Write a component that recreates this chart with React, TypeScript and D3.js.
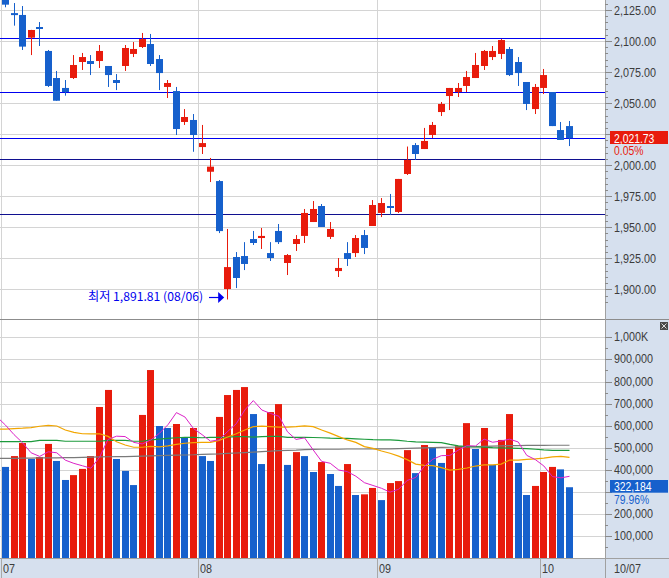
import React from 'react';
import * as d3 from 'd3';

// ---- data (index -1 = 06/28, 0..66 = 07/01 .. 10/07) ----
const firstIndex = -1;
const openP = [2134, 2134.5, 2122.5, 2121, 2102.7, 2111.3, 2092, 2070.2, 2062.2, 2070.2, 2083.1, 2083.9, 2083.9, 2079.9, 2068.6, 2079.9, 2089.6, 2095.2, 2097.6, 2085.5, 2063, 2059.7, 2034.8, 2036.4,
  2014.6, 1994.7, 1987.2, 1900.2, 1926, 1926.8, 1940.5, 1941.3, 1929.2, 1947, 1921.2, 1936.5, 1943, 1954.2, 1967.1, 1942.2, 1914.7, 1929.2, 1929.2, 1943.7, 1951,
  1961.5, 1967.1, 1962.3, 1992.9, 2016.2, 2013, 2024.3, 2042.8, 2055.7, 2058.9, 2063.8, 2070.2, 2079.9, 2087.1, 2089.6, 2093.6, 2083.1, 2067, 2045.2,
  2062.2, 2058.9, 2028.3, 2031.5];
const highP = [2137, 2138, 2130.6, 2128.2, 2109, 2115.3, 2092.8, 2075.9, 2068.6, 2088.7, 2090.4, 2088.7, 2096.8, 2079.9, 2073.4, 2096.8, 2099.2, 2106.5, 2105.7, 2088.7, 2068.6, 2063, 2045.2, 2041.2,
  2032.4, 2005.8, 1988, 1948.6, 1930, 1938, 1947, 1949.4, 1938, 1952.6, 1928.4, 1943.7, 1964.7, 1971.1, 1968.7, 1954.2, 1925.2, 1938, 1943.7, 1947.8, 1971.9,
  1973.5, 1976.8, 1988.9, 2015, 2017.8, 2030, 2034.8, 2050.9, 2062.2, 2066.2, 2075.9, 2090.4, 2092.8, 2096, 2101.6, 2095.2, 2087.1, 2067, 2065.4,
  2077.5, 2058.9, 2034.8, 2035.6];
const lowP = [2127, 2127.2, 2112.4, 2092.8, 2088.7, 2096, 2063, 2051.9, 2056, 2069.4, 2076.7, 2072.6, 2078.3, 2063, 2060.5, 2075.9, 2087.1, 2094.4, 2079.9, 2060.5, 2054.1, 2024.3, 2032.4, 2010.8,
  2009, 1986.4, 1945.3, 1891.81, 1901, 1915.5, 1935.7, 1932.5, 1922.8, 1936.5, 1911.5, 1930.9, 1937.3, 1954.2, 1950.2, 1940.5, 1909.9, 1918.8, 1926, 1928.4, 1951,
  1958.2, 1959.8, 1961.5, 1992.1, 2004.2, 2013, 2021.9, 2039.6, 2044.4, 2054.9, 2058.9, 2070.2, 2076.7, 2084.7, 2085.5, 2071.8, 2063.8, 2044.4, 2041.2,
  2057.3, 2031.5, 2020.3, 2015.4];
const closeP = [2130.6, 2129.3, 2121.5, 2095.5, 2108.9, 2110, 2063.8, 2051.9, 2058.9, 2080.7, 2087.1, 2081.5, 2092, 2072.6, 2066.2, 2094.4, 2093.6, 2101.6, 2081.5, 2074.2, 2066.2, 2029.1, 2038.8, 2024.3,
  2017.8, 1998.8, 1946.9, 1917.9, 1909.1, 1920.4, 1937.3, 1943, 1925.2, 1938, 1927.6, 1940.5, 1961.5, 1964.7, 1950.2, 1948.6, 1917.2, 1924.4, 1941.3, 1933.3, 1967.9,
  1969.5, 1965.5, 1988.9, 2004.2, 2009, 2019.5, 2032.4, 2049.3, 2062.2, 2062.2, 2071, 2080.7, 2092, 2092, 2100.8, 2072.6, 2074.2, 2049.3, 2063,
  2072.6, 2031.5, 2020.3, 2021.73];
// volume in thousands
const volume = [540, 414, 463, 522, 450, 459, 518, 441, 355, 377, 405, 463, 685, 762, 450, 396, 332, 649, 852, 599, 590, 608, 549, 590,
  463, 441, 640, 739, 762, 775, 653, 427, 662, 698, 423, 481, 463, 391, 436, 382, 328, 427, 287, 290, 319,
  264, 341, 350, 490, 386, 513, 504, 432, 495, 508, 612, 495, 590, 423, 536, 653, 432, 287, 328,
  391, 414, 402.9, 322.184];
const ma5 = [640, 603, 560, 523, 477.8, 461.6, 482.4, 478, 444.6, 430, 419.2, 408.2, 457, 538.4, 553, 551.2, 525, 517.8, 535.8, 565.6, 604.4, 659.6, 639.6, 587.2,
  560, 530.2, 536.6, 574.6, 609, 671.4, 713.8, 671.2, 655.8, 643, 572.6, 538.2, 545.4, 491.2, 438.8, 430.6, 400, 392.8, 372, 342.8, 330.2,
  317.4, 300.2, 312.8, 352.8, 366.2, 416, 448.6, 465, 466, 490.4, 510.2, 508.4, 540, 525.6, 531.2, 539.4, 526.8, 466.2, 447.2,
  418.2, 370.4, 364.6, 371.6];
const ma20 = [585, 585, 587, 589, 592, 598, 602, 599, 581, 570, 564, 563, 564, 552, 528, 513, 503, 503, 507, 505, 509, 516, 521, 524,
  525, 525, 534, 549, 564, 581, 596, 598, 596, 594, 594, 596, 600, 596, 581, 567, 551, 536, 525, 506, 498, 486,
  476, 463, 447, 427, 421, 420, 411, 400, 403, 409, 418, 423, 423, 427, 445, 445, 448, 450, 454, 459, 462, 457];
const ma60 = [528, 528, 528, 528, 528, 534, 534, 534, 530, 530, 530, 530, 530, 534, 534, 534, 530, 530, 536, 540, 543, 546, 548, 548,
  546, 548, 548, 549, 551, 551, 549, 551, 552, 552, 548, 548, 548, 547, 546, 544, 543, 543, 541, 539, 537, 536,
  536, 534, 530, 527, 526, 525, 524, 516, 509, 506, 505, 503, 501, 500, 499, 498, 497, 494, 491, 489, 489, 489];
const ma120 = [453, 453, 453, 454, 454, 455, 455, 455, 456, 456, 457, 458, 459, 460, 461, 461, 462, 463, 464, 465, 466, 467, 468, 469,
  471, 472, 473, 475, 477, 479, 481, 483, 485, 488, 489, 490, 492, 493, 494, 494, 494, 495, 495, 495, 496, 496,
  496, 497, 498, 499, 500, 501, 502, 503, 504, 505, 506, 507, 508, 509, 510, 510, 511, 511, 511, 512, 512, 512];

const monthLabels = ['07', '08', '09', '10'];
const monthStart = [0, 23, 44, 63];
const lastDateLabel = '10/07';
const priceTicks = [1900, 1925, 1950, 1975, 2000, 2025, 2050, 2075, 2100, 2125];
const volumeTicks = [100, 200, 300, 400, 500, 600, 700, 800, 900, 1000];
const hiddenPriceTicks = [2025];
const hiddenVolumeTicks = [300];
const blueLevels = [2102.2, 2058.6, 2021.6];
const navyLevels = [2004.6, 1961];
const lowNote = '최저 1,891.81 (08/06)';
const lowIndex = 26;
const lastPriceText = '2,021.73';
const lastChangeText = '0.05%';
const lastVolumeText = '322,184';
const lastVolumeRatioText = '79.96%';

const RED = '#e81b0c';
const BLUE = '#1660cc';
const PANEL = '#d6e0ee';
const GRID = '#d4d4d4';
const TXT = '#3c3c3c';
const PLOT_R = 605;

const fmtPrice = (v: number) => d3.format(',.2f')(v);

function AxisText({ x, y, children, fill = TXT, size = 13 }: any) {
  return (
    <text transform={`translate(${x},${y}) scale(0.83,1)`} fill={fill}
      style={{ fontFamily: 'Liberation Sans, Arial, sans-serif', fontSize: size }}>{children}</text>
  );
}

export default function App() {
  const x = d3.scaleLinear().domain([0, 66]).range([5.5, 569.5]);
  const yP = d3.scaleLinear().domain([1900, 2125]).range([289.3, 10]);
  const yV = d3.scaleLinear().domain([0, 1000]).range([558.5, 337.3]);
  const idx = d3.range(firstIndex, firstIndex + openP.length);
  const crisp = (v: number) => Math.round(v) + 0.5;

  const lineGen = d3.line<number>().x((_, k) => x(idx[k])).y((v) => yV(v)).curve(d3.curveLinear);

  const minorPrice = d3.range(1890, 2140, 5).filter((v) => yP(v) > 1 && yP(v) < 318);
  const minorVol = d3.range(0, 1050, 50).filter((v) => yV(v) > 321 && yV(v) < 558);

  const volLabel = (v: number) => (v >= 1000 ? '1,000K' : d3.format(',')(v * 1000));

  return (
    <svg width={669} height={578} style={{ position: 'absolute', left: 0, top: 0, background: '#fff' }}>
      <defs>
        <clipPath id="pclip"><rect x={0} y={0} width={PLOT_R} height={319} /></clipPath>
        <clipPath id="vclip"><rect x={0} y={320} width={PLOT_R} height={238} /></clipPath>
      </defs>
      <rect x={0} y={0} width={669} height={578} fill="#fff" />
      {/* right panel & bottom strip */}
      <rect x={PLOT_R} y={0} width={669 - PLOT_R} height={578} fill={PANEL} />
      <rect x={0} y={559} width={669} height={19} fill={PANEL} />

      {/* price grid */}
      {priceTicks.map((t) => (
        <line key={'pg' + t} x1={0} x2={PLOT_R} y1={crisp(yP(t))} y2={crisp(yP(t))} stroke={GRID} />
      ))}
      {/* volume grid */}
      {volumeTicks.map((t) => (
        <line key={'vg' + t} x1={0} x2={PLOT_R} y1={crisp(yV(t))} y2={crisp(yV(t))} stroke={GRID} />
      ))}
      {/* month grid */}
      {monthStart.map((m) => (
        <g key={'mg' + m}>
          <line x1={crisp(x(m) - 4.27)} x2={crisp(x(m) - 4.27)} y1={0} y2={559} stroke={GRID} />
          <line x1={crisp(x(m) - 4.27)} x2={crisp(x(m) - 4.27)} y1={559} y2={578} stroke="#a8a8a8" />
        </g>
      ))}

      {/* horizontal level lines */}
      {blueLevels.map((p) => (
        <line key={'bl' + p} x1={0} x2={PLOT_R} y1={crisp(yP(p))} y2={crisp(yP(p))} stroke="#0000f0" strokeWidth={1.2} />
      ))}
      {navyLevels.map((p) => (
        <line key={'nl' + p} x1={0} x2={PLOT_R} y1={crisp(yP(p))} y2={crisp(yP(p))} stroke="#101090" strokeWidth={1.2} />
      ))}

      {/* candles */}
      <g clipPath="url(#pclip)">
        {idx.map((i, k) => {
          const o = openP[k], c = closeP[k], h = highP[k], l = lowP[k];
          const col = c >= o ? RED : BLUE;
          const left = Math.round(x(i) - 3.5);
          const top = yP(Math.max(o, c));
          const bh = Math.max(2, Math.abs(yP(o) - yP(c)));
          return (
            <g key={'c' + i}>
              <rect x={left + 3} y={yP(h)} width={1} height={yP(l) - yP(h)} fill={col} />
              <rect x={left} y={top} width={7} height={bh} fill={col} />
            </g>
          );
        })}
      </g>

      {/* low annotation */}
      <text x={88} y={301} fill="#0000ee" textLength={115} lengthAdjust="spacingAndGlyphs"
        style={{ fontFamily: 'Noto Sans CJK KR, sans-serif', fontSize: 12 }}>{lowNote}</text>
      <line x1={209} x2={219} y1={297.5} y2={297.5} stroke="#0000ee" strokeWidth={1.2} />
      <path d={`M${x(lowIndex) - 9.5},292 L${x(lowIndex) - 3.5},297.5 L${x(lowIndex) - 9.5},303 Z`} fill="#0000ee" />

      {/* volume bars */}
      <g clipPath="url(#vclip)">
        {idx.map((i, k) => {
          const v = volume[k];
          const prev = k > 0 ? volume[k - 1] : Infinity;
          const col = v >= prev ? RED : BLUE;
          const left = Math.round(x(i) - 3.5);
          return <rect key={'v' + i} x={left} y={yV(v)} width={7} height={yV(0) - yV(v)} fill={col} />;
        })}
        <path d={lineGen(ma120) || ''} fill="none" stroke="#7a7a7a" strokeWidth={1.2} />
        <path d={lineGen(ma60) || ''} fill="none" stroke="#1c9a3c" strokeWidth={1.2} />
        <path d={lineGen(ma20) || ''} fill="none" stroke="#f2a600" strokeWidth={1.2} />
        <path d={lineGen(ma5) || ''} fill="none" stroke="#dc22c8" strokeWidth={1} />
      </g>

      {/* panel separators */}
      <line x1={0} x2={669} y1={319.5} y2={319.5} stroke="#8c8c8c" />
      <line x1={0} x2={669} y1={558.5} y2={558.5} stroke="#a0a0a0" />
      <line x1={PLOT_R + 0.5} x2={PLOT_R + 0.5} y1={0} y2={578} stroke="#a0a0a0" />

      {/* price axis */}
      {minorPrice.map((v) => (
        <line key={'pm' + v} x1={PLOT_R} x2={PLOT_R + 3} y1={crisp(yP(v))} y2={crisp(yP(v))} stroke="#8a8a8a" />
      ))}
      {priceTicks.map((t) => (
        <g key={'pt' + t}>
          <line x1={PLOT_R} x2={PLOT_R + 7} y1={crisp(yP(t))} y2={crisp(yP(t))} stroke="#8a8a8a" />
          {hiddenPriceTicks.includes(t) ? null : <AxisText x={614} y={yP(t) + 4.5}>{fmtPrice(t)}</AxisText>}
        </g>
      ))}
      <rect x={610} y={131} width={58} height={13} fill={RED} />
      <AxisText x={614} y={142.5} fill="#fff" size={12.5}>{lastPriceText}</AxisText>
      <AxisText x={614} y={155} fill={RED} size={12.5}>{lastChangeText}</AxisText>

      {/* volume axis */}
      {minorVol.map((v) => (
        <line key={'vm' + v} x1={PLOT_R} x2={PLOT_R + 3} y1={crisp(yV(v))} y2={crisp(yV(v))} stroke="#8a8a8a" />
      ))}
      {volumeTicks.map((t) => (
        <g key={'vt' + t}>
          <line x1={PLOT_R} x2={PLOT_R + 7} y1={crisp(yV(t))} y2={crisp(yV(t))} stroke="#8a8a8a" />
          {hiddenVolumeTicks.includes(t) ? null : <AxisText x={614} y={yV(t) + 4}>{volLabel(t)}</AxisText>}
        </g>
      ))}
      <rect x={610} y={480} width={58} height={12.7} fill={BLUE} />
      <AxisText x={614} y={491} fill="#fff" size={12.5}>{lastVolumeText}</AxisText>
      <AxisText x={614} y={503.5} fill={BLUE} size={12.5}>{lastVolumeRatioText}</AxisText>

      {/* panel icon */}
      <rect x={660} y={322} width={8} height={8} fill="#4a4a4a" />
      <path d="M661.5,323.5 L666.5,328.5 M666.5,323.5 L661.5,328.5" stroke="#fff" strokeWidth={0.8} />

      {/* date axis */}
      {monthStart.map((m, j) => (
        <AxisText key={'ml' + m} x={crisp(x(m) - 4.27) + 1.5} y={573}>{monthLabels[j]}</AxisText>
      ))}
      <AxisText x={614} y={573}>{lastDateLabel}</AxisText>
    </svg>
  );
}
